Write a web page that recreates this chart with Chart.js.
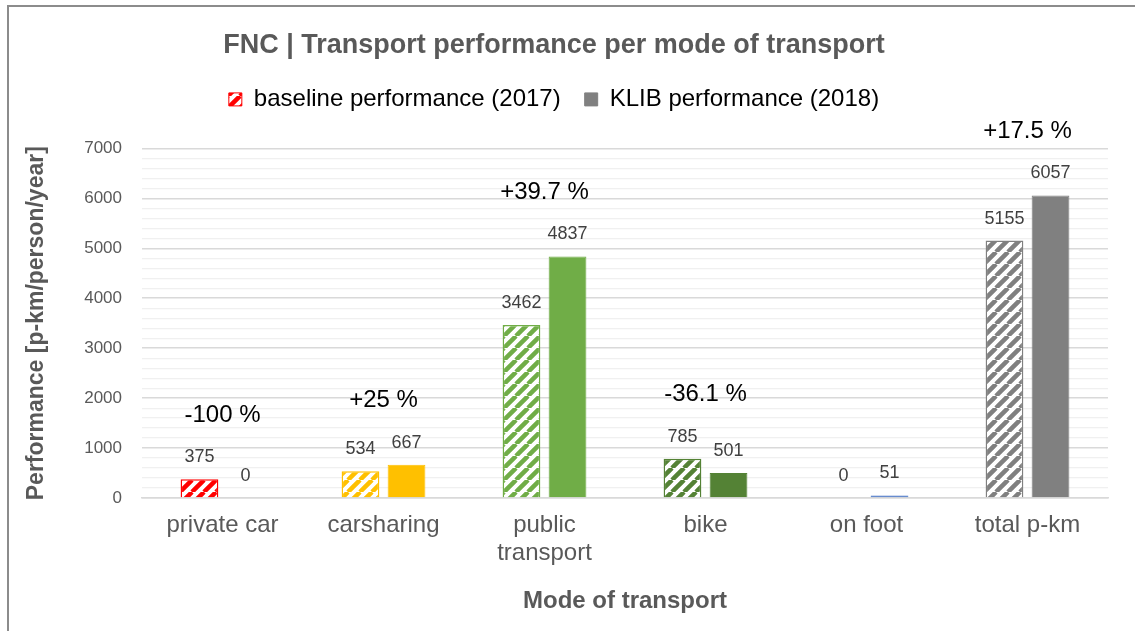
<!DOCTYPE html>
<html>
<head>
<meta charset="utf-8">
<script src="https://cdn.jsdelivr.net/npm/chart.js@4"></script>
<style>
  html, body { margin: 0; padding: 0; background: #fff; }
  #wrap { width: 1135px; height: 631px; }
</style>
</head>
<body>
<div id="wrap"><canvas id="myChart" width="1135" height="631"></canvas></div>
<script>
const categories = ["private car", "carsharing", ["public", "transport"], "bike", "on foot", "total p-km"];
const baseline2017 = [375, 534, 3462, 785, 0, 5155];
const klib2018 = [0, 667, 4837, 501, 51, 6057];
const changeLabels = ["-100 %", "+25 %", "+39.7 %", "-36.1 %", "", "+17.5 %"];
const barColors = ["#ff0000", "#ffc000", "#70ad47", "#548235", "#4472c4", "#808080"];
const yTicks = [0, 1000, 2000, 3000, 4000, 5000, 6000, 7000];

const FONT = "'Liberation Sans', Arial, sans-serif";

// diagonal hatch like excel's "wide upward diagonal"
function hatch(color) {
  const size = 12;
  const c = document.createElement("canvas");
  c.width = size;
  c.height = size;
  const g = c.getContext("2d");
  g.fillStyle = "#fff";
  g.fillRect(0, 0, size, size);
  g.strokeStyle = color;
  g.lineWidth = 4.5;
  g.beginPath();
  for (let k = -1; k <= 1; k++) {
    g.moveTo(k * size, size);
    g.lineTo(k * size + size, 0);
  }
  g.stroke();
  return g.createPattern(c, "repeat");
}

const ctx = document.getElementById("myChart").getContext("2d");
const hatches = barColors.map(hatch);

const frame = {
  id: "frame",
  beforeLayout(chart) {
    // leave some room between legend and plot
    const lg = chart.legend;
    if (lg && !lg._extraRoom) {
      const fit = lg.fit.bind(lg);
      lg.fit = function () {
        fit();
        this.height += 27;
      };
      lg._extraRoom = true;
    }
  },
  beforeDraw(chart) {
    const c = chart.ctx;
    c.save();
    c.strokeStyle = "#8c8c8c";
    c.lineWidth = 2;
    c.beginPath();
    c.moveTo(8, 640);
    c.lineTo(8, 6);
    c.lineTo(1140, 6);
    c.stroke();
    c.restore();
  },
};

const valueLabels = {
  id: "valueLabels",
  afterDatasetsDraw(chart) {
    const c = chart.ctx;
    const y = chart.scales.y;
    c.save();
    c.textAlign = "center";
    c.textBaseline = "middle";
    c.font = "18px " + FONT;
    c.fillStyle = "#404040";
    chart.data.datasets.forEach((ds, i) => {
      chart.getDatasetMeta(i).data.forEach((bar, j) => {
        c.fillText(String(ds.data[j]), bar.x, bar.y - 22);
      });
    });
    // percentage change above each pair
    c.font = "24px " + FONT;
    c.fillStyle = "#000";
    const m0 = chart.getDatasetMeta(0).data;
    const m1 = chart.getDatasetMeta(1).data;
    changeLabels.forEach((txt, j) => {
      if (!txt) return;
      const top = y.getPixelForValue(Math.max(baseline2017[j], klib2018[j]));
      c.fillText(txt, (m0[j].x + m1[j].x) / 2, top - 64);
    });
    c.restore();
  },
};

new Chart(ctx, {
  type: "bar",
  data: {
    labels: categories,
    datasets: [
      {
        label: "baseline performance (2017)",
        data: baseline2017,
        backgroundColor: hatches,
        borderColor: barColors,
        borderWidth: 1.5,
        categoryPercentage: 0.572,
        barPercentage: 0.82,
      },
      {
        label: "KLIB performance (2018)",
        data: klib2018,
        backgroundColor: barColors,
        borderColor: barColors,
        borderWidth: 1,
        categoryPercentage: 0.572,
        barPercentage: 0.82,
      },
    ],
  },
  options: {
    responsive: false,
    animation: false,
    layout: { padding: { top: 8, right: 27, bottom: 0, left: 0 } },
    plugins: {
      title: {
        display: true,
        text: "FNC | Transport performance per mode of transport",
        color: "#595959",
        font: { family: FONT, size: 27, weight: "bold" },
        padding: { top: 21, bottom: 2 },
      },
      legend: {
        labels: {
          color: "#595959",
          font: { family: FONT, size: 24 },
          boxWidth: 13,
          boxHeight: 13,
          padding: 24,
          generateLabels: (chart) => [
            { text: "baseline performance (2017)", fillStyle: hatches[0], strokeStyle: "#ff0000", lineWidth: 1, datasetIndex: 0 },
            { text: "KLIB performance (2018)", fillStyle: "#808080", strokeStyle: "#808080", lineWidth: 1, datasetIndex: 1 },
          ],
        },
      },
      tooltip: { enabled: false },
    },
    scales: {
      x: {
        grid: { display: false, drawTicks: false },
        border: { color: "#d9d9d9", width: 1.5 },
        ticks: {
          color: "#595959",
          font: { family: FONT, size: 24, lineHeight: 1.17 },
          padding: 13,
          maxRotation: 0,
        },
        title: {
          display: true,
          text: "Mode of transport",
          color: "#595959",
          font: { family: FONT, size: 24, weight: "bold" },
          padding: { bottom: 15 },
        },
        afterFit: (scale) => { scale.height = 133; },
      },
      y: {
        min: 0,
        max: 7000,
        border: { display: false },
        grid: {
          drawTicks: false,
          color: (c) => (c.tick && c.tick.value % 1000 === 0 ? "#d9d9d9" : "#f0f0f0"),
          lineWidth: (c) => (c.tick && c.tick.value % 1000 === 0 ? 1.5 : 1.2),
        },
        ticks: {
          stepSize: 200,
          autoSkip: false,
          padding: 20,
          color: "#595959",
          font: { family: FONT, size: 17 },
          callback: (v) => (yTicks.includes(v) ? String(v) : ""),
        },
        title: {
          display: true,
          text: "Performance [p-km/person/year]",
          color: "#595959",
          font: { family: FONT, size: 23, weight: "bold" },
          padding: { top: 23 },
        },
        afterFit: (scale) => { scale.width = 142; },
      },
    },
  },
  plugins: [frame, valueLabels],
});
</script>
</body>
</html>
